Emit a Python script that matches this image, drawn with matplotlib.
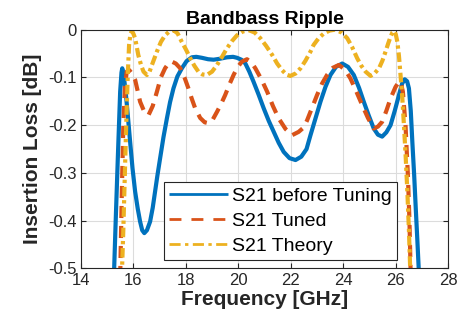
import matplotlib
matplotlib.use("Agg")
import matplotlib.pyplot as plt

plt.rcParams['font.family'] = ['Liberation Sans', 'DejaVu Sans']

# ---- data ----
f_before = [15.26, 15.33, 15.41, 15.50, 15.55, 15.58, 15.62, 15.71, 15.80, 15.88, 15.97, 16.07, 16.17,
            16.26, 16.34, 16.42, 16.52, 16.64, 16.74, 16.83, 16.92, 17.02, 17.15, 17.28, 17.40, 17.53,
            17.68, 17.85, 18.03, 18.23, 18.40, 18.61, 18.85, 19.06, 19.30, 19.57, 19.80, 19.95, 20.12,
            20.27, 20.42, 20.58, 20.78, 20.97, 21.16, 21.35, 21.54, 21.73, 21.95, 22.18, 22.40, 22.60,
            22.75, 22.94, 23.13, 23.32, 23.51, 23.72, 23.96, 24.18, 24.40, 24.60, 24.78, 24.97, 25.16,
            25.32, 25.48, 25.64, 25.80, 25.96, 26.12, 26.24, 26.34, 26.43, 26.50, 26.57, 26.63, 26.70,
            26.76, 26.82, 26.89]
s21_before = [-0.52, -0.40, -0.27, -0.13, -0.09, -0.081, -0.09, -0.13, -0.185, -0.235, -0.29, -0.339, -0.375,
              -0.402, -0.420, -0.426, -0.420, -0.402, -0.373, -0.339, -0.305, -0.27, -0.225, -0.186, -0.152, -0.123,
              -0.098, -0.081, -0.066, -0.058, -0.057, -0.059, -0.062, -0.063, -0.061, -0.058, -0.057, -0.059, -0.063,
              -0.071, -0.088, -0.109, -0.137, -0.165, -0.191, -0.214, -0.237, -0.256, -0.269, -0.273, -0.266, -0.250,
              -0.221, -0.186, -0.151, -0.12, -0.095, -0.078, -0.071, -0.078, -0.095, -0.122, -0.151, -0.18, -0.207,
              -0.220, -0.224, -0.215, -0.20, -0.17, -0.137, -0.113, -0.104, -0.108, -0.123, -0.17, -0.235, -0.305,
              -0.374, -0.44, -0.52]

f_tuned = [15.50, 15.56, 15.62, 15.68, 15.75, 15.85, 15.95, 16.07, 16.26, 16.42, 16.58, 16.74, 16.90, 17.05,
           17.21, 17.35, 17.47, 17.62, 17.79, 17.95, 18.10, 18.23, 18.36, 18.55, 18.72, 18.87, 19.03, 19.19,
           19.35, 19.50, 19.66, 19.82, 19.98, 20.14, 20.33, 20.49, 20.65, 20.88, 21.10, 21.32, 21.54, 21.80,
           22.05, 22.30, 22.49, 22.62, 22.80, 23.00, 23.19, 23.38, 23.60, 23.83, 24.05, 24.27, 24.50, 24.72,
           24.94, 25.16, 25.32, 25.48, 25.64, 25.80, 25.99, 26.10, 26.18, 26.27, 26.37, 26.46, 26.52, 26.57]
s21_tuned = [-0.52, -0.35, -0.20, -0.12, -0.088, -0.085, -0.092, -0.105, -0.151, -0.172, -0.179, -0.160, -0.13, -0.100,
             -0.081, -0.070, -0.067, -0.071, -0.081, -0.10, -0.123, -0.145, -0.165, -0.185, -0.194, -0.196, -0.188, -0.172,
             -0.155, -0.137, -0.115, -0.095, -0.078, -0.067, -0.062, -0.068, -0.081, -0.104, -0.13, -0.160, -0.186, -0.208,
             -0.221, -0.214, -0.205, -0.19, -0.165, -0.137, -0.113, -0.095, -0.080, -0.074, -0.083, -0.102, -0.130, -0.158,
             -0.185, -0.207, -0.203, -0.193, -0.170, -0.144, -0.12, -0.111, -0.109, -0.130, -0.20, -0.304, -0.40, -0.52]

f_theory = [15.56, 15.62, 15.66, 15.73, 15.79, 15.84, 15.89, 15.94, 16.00, 16.07, 16.19, 16.30, 16.39, 16.52,
            16.62, 16.71, 16.90, 17.05, 17.21, 17.37, 17.53, 17.69, 17.85, 18.01, 18.17, 18.33, 18.48, 18.64,
            18.80, 19.00, 19.19, 19.38, 19.57, 19.76, 19.95, 20.17, 20.39, 20.62, 20.84, 21.06, 21.29, 21.48,
            21.67, 21.83, 21.98, 22.18, 22.37, 22.56, 22.75, 22.87, 23.06, 23.26, 23.48, 23.70, 23.93, 24.15,
            24.34, 24.53, 24.69, 24.85, 25.04, 25.20, 25.36, 25.49, 25.61, 25.71, 25.80, 25.87, 25.93, 26.00,
            26.06, 26.12, 26.18, 26.25, 26.31, 26.38, 26.44, 26.50, 26.56]
s21_theory = [-0.52, -0.42, -0.339, -0.20, -0.095, -0.032, -0.010, -0.003, -0.008, -0.018, -0.053, -0.075, -0.088, -0.095,
              -0.088, -0.074, -0.046, -0.026, -0.012, -0.004, -0.001, -0.008, -0.026, -0.042, -0.06, -0.076, -0.088, -0.094,
              -0.095, -0.088, -0.074, -0.057, -0.039, -0.024, -0.012, -0.004, -0.001, -0.006, -0.018, -0.034, -0.053, -0.071,
              -0.085, -0.094, -0.097, -0.092, -0.081, -0.065, -0.046, -0.032, -0.018, -0.008, -0.002, 0.0, -0.006, -0.018,
              -0.037, -0.06, -0.076, -0.088, -0.097, -0.091, -0.081, -0.065, -0.046, -0.029, -0.015, -0.006, -0.003, -0.010,
              -0.026, -0.055, -0.095, -0.145, -0.2, -0.27, -0.339, -0.42, -0.52]

labels = ['S21 before Tuning', 'S21 Tuned', 'S21 Theory']
xticks = [14, 16, 18, 20, 22, 24, 26, 28]
yticks = [-0.5, -0.4, -0.3, -0.2, -0.1, 0]
ytick_labels = ['-0.5', '-0.4', '-0.3', '-0.2', '-0.1', '0']

# ---- figure ----
fig = plt.figure(figsize=(4.59, 3.29), dpi=100)
ax = fig.add_axes([0.176, 0.184, 0.8007, 0.726])

dark = '#262626'
ax.plot(f_before, s21_before, color='#0072BD', lw=3.0, label=labels[0], solid_capstyle='butt')
ax.plot(f_tuned, s21_tuned, color='#D95319', lw=3.0, ls=(0, (2.9, 1.9)), label=labels[1])
ax.plot(f_theory, s21_theory, color='#EDB120', lw=3.0, ls=(0, (2.3, 0.9, 0.8, 0.9)), label=labels[2])

ax.set_xlim(14, 28)
ax.set_ylim(-0.5, 0)
ax.set_xticks(xticks)
ax.set_yticks(yticks)
ax.set_yticklabels(ytick_labels)
ax.grid(True, color='#dcdcdc', lw=0.8)
ax.set_axisbelow(True)
ax.tick_params(direction='in', top=True, right=True, length=3.5, width=0.8,
               labelsize=12, colors=dark, pad=3)
for s in ax.spines.values():
    s.set_color(dark)
    s.set_linewidth(0.8)

ax.set_xlabel('Frequency [GHz]', fontsize=15, fontweight='bold', color=dark, labelpad=2)
ax.set_ylabel('Insertion Loss [dB]', fontsize=15, fontweight='bold', color=dark, labelpad=4)
ax.set_title('Bandbass Ripple', fontsize=14, fontweight='bold', color='black', pad=4)

leg = ax.legend(loc='lower left', bbox_to_anchor=(0.227, 0.036), fontsize=14,
                handlelength=3.0, handletextpad=0.23, labelspacing=0.38,
                borderpad=0.27, borderaxespad=0, fancybox=False, framealpha=1,
                edgecolor=dark)
leg.get_frame().set_linewidth(0.8)
leg_lines = leg.get_lines()
for ln in leg_lines:
    ln.set_linewidth(2.0)
leg_lines[1].set_dashes((4.3, 3.6))
leg_lines[2].set_dashes((4.0, 1.6, 1.2, 1.6))

fig.savefig('out.png', dpi=100)
